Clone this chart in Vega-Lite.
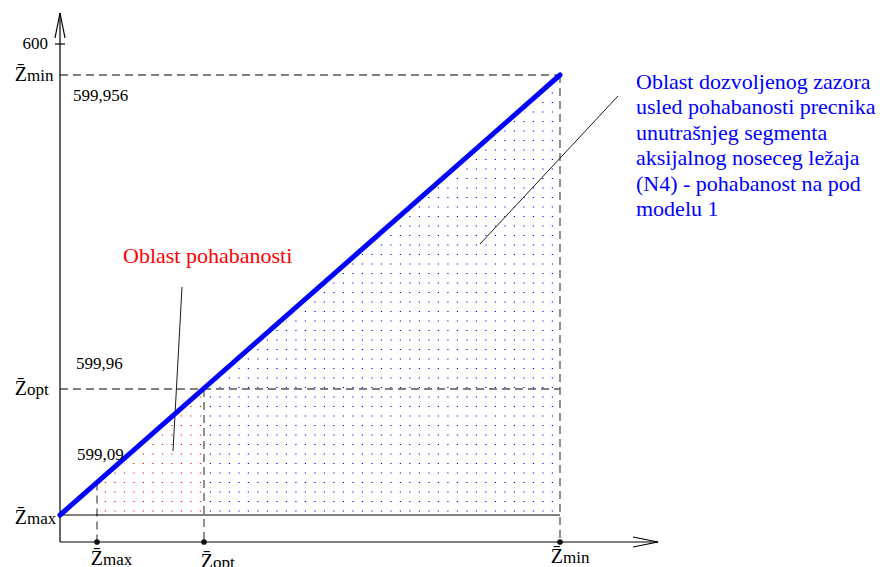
{
  "$schema": "https://vega.github.io/schema/vega-lite/v6.json",
  "autosize": {"type": "none"},
  "width": 880,
  "height": 567,
  "padding": 0,
  "background": "white",
  "view": {"stroke": null},
  "datasets": {
    "dots": [
      {"region": "blue", "y": 0.8, "xs": 98.6, "xe": 29.4},
      {"region": "blue", "y": 2.7, "xs": 98.6, "xe": 29.4},
      {"region": "blue", "y": 4.6, "xs": 98.6, "xe": 29.4},
      {"region": "blue", "y": 6.5, "xs": 98.6, "xe": 29.4},
      {"region": "blue", "y": 8.4, "xs": 98.6, "xe": 29.4},
      {"region": "blue", "y": 10.3, "xs": 98.6, "xe": 29.4},
      {"region": "blue", "y": 12.2, "xs": 98.6, "xe": 29.4},
      {"region": "blue", "y": 14.1, "xs": 98.6, "xe": 29.4},
      {"region": "blue", "y": 16.0, "xs": 98.6, "xe": 29.4},
      {"region": "blue", "y": 17.9, "xs": 98.6, "xe": 29.4},
      {"region": "blue", "y": 19.8, "xs": 98.6, "xe": 29.4},
      {"region": "blue", "y": 21.7, "xs": 98.6, "xe": 29.4},
      {"region": "blue", "y": 23.6, "xs": 98.6, "xe": 29.4},
      {"region": "blue", "y": 25.5, "xs": 98.6, "xe": 30.2},
      {"region": "blue", "y": 27.4, "xs": 98.6, "xe": 32.3},
      {"region": "blue", "y": 29.3, "xs": 98.6, "xe": 34.5},
      {"region": "blue", "y": 31.2, "xs": 98.6, "xe": 36.7},
      {"region": "blue", "y": 33.1, "xs": 98.6, "xe": 38.8},
      {"region": "blue", "y": 35.0, "xs": 98.6, "xe": 41.0},
      {"region": "blue", "y": 36.9, "xs": 98.6, "xe": 43.1},
      {"region": "blue", "y": 38.8, "xs": 98.6, "xe": 45.3},
      {"region": "blue", "y": 40.7, "xs": 98.6, "xe": 47.5},
      {"region": "blue", "y": 42.6, "xs": 98.6, "xe": 49.6},
      {"region": "blue", "y": 44.5, "xs": 98.6, "xe": 51.8},
      {"region": "blue", "y": 46.4, "xs": 98.6, "xe": 53.9},
      {"region": "blue", "y": 48.3, "xs": 98.6, "xe": 56.1},
      {"region": "blue", "y": 50.2, "xs": 98.6, "xe": 58.3},
      {"region": "blue", "y": 52.1, "xs": 98.6, "xe": 60.4},
      {"region": "blue", "y": 54.0, "xs": 98.6, "xe": 62.6},
      {"region": "blue", "y": 55.9, "xs": 98.6, "xe": 64.7},
      {"region": "blue", "y": 57.8, "xs": 98.6, "xe": 66.9},
      {"region": "blue", "y": 59.7, "xs": 98.6, "xe": 69.0},
      {"region": "blue", "y": 61.6, "xs": 98.6, "xe": 71.2},
      {"region": "blue", "y": 63.5, "xs": 98.6, "xe": 73.4},
      {"region": "blue", "y": 65.4, "xs": 98.6, "xe": 75.5},
      {"region": "blue", "y": 67.3, "xs": 98.6, "xe": 77.7},
      {"region": "blue", "y": 69.2, "xs": 98.6, "xe": 79.8},
      {"region": "blue", "y": 71.1, "xs": 98.6, "xe": 82.0},
      {"region": "blue", "y": 73.0, "xs": 98.6, "xe": 84.2},
      {"region": "blue", "y": 74.9, "xs": 98.6, "xe": 86.3},
      {"region": "blue", "y": 76.8, "xs": 98.6, "xe": 88.5},
      {"region": "blue", "y": 78.7, "xs": 98.6, "xe": 90.6},
      {"region": "blue", "y": 80.6, "xs": 98.6, "xe": 92.8},
      {"region": "blue", "y": 82.5, "xs": 98.6, "xe": 95.0},
      {"region": "blue", "y": 84.4, "xs": 98.6, "xe": 97.1},
      {"region": "red", "y": 0.8, "xs": 28.2, "xe": 7.8},
      {"region": "red", "y": 2.7, "xs": 28.2, "xe": 7.8},
      {"region": "red", "y": 4.6, "xs": 28.2, "xe": 7.8},
      {"region": "red", "y": 6.5, "xs": 28.2, "xe": 8.6},
      {"region": "red", "y": 8.4, "xs": 28.2, "xe": 10.7},
      {"region": "red", "y": 10.3, "xs": 28.2, "xe": 12.9},
      {"region": "red", "y": 12.2, "xs": 28.2, "xe": 15.1},
      {"region": "red", "y": 14.1, "xs": 28.2, "xe": 17.2},
      {"region": "red", "y": 16.0, "xs": 28.2, "xe": 19.4},
      {"region": "red", "y": 17.9, "xs": 28.2, "xe": 21.5},
      {"region": "red", "y": 19.8, "xs": 28.2, "xe": 23.7},
      {"region": "red", "y": 21.7, "xs": 28.2, "xe": 25.9},
      {"region": "red", "y": 23.6, "xs": 28.2, "xe": 27.9}
    ],
    "dashed": [
      {"x": 0, "y": 88, "x2": 100, "y2": 88},
      {"x": 0, "y": 25.2, "x2": 100, "y2": 25.2},
      {"x": 100, "y": 88, "x2": 100, "y2": -5.4},
      {"x": 28.8, "y": 25.2, "x2": 28.8, "y2": -5.4},
      {"x": 7.4, "y": 6.5, "x2": 7.4, "y2": -5.4}
    ],
    "solid": [
      {"x": 0, "y": 0, "x2": 100, "y2": 0},
      {"x": 0, "y": -5.4, "x2": 0, "y2": 100.4},
      {"x": 0, "y": -5.4, "x2": 119.6, "y2": -5.4},
      {"x": 0, "y": 100.4, "x2": -1, "y2": 95.4},
      {"x": 0, "y": 100.4, "x2": 1, "y2": 95.4},
      {"x": 119.6, "y": -5.4, "x2": 114.6, "y2": -4.4},
      {"x": 119.6, "y": -5.4, "x2": 114.6, "y2": -6.4},
      {"x": -1, "y": 94.2, "x2": 1, "y2": 94.2}
    ],
    "leaders": [
      {"x": 24.4, "y": 45.6, "x2": 22.6, "y2": 12.8},
      {"x": 84, "y": 54.2, "x2": 111.6, "y2": 83.8}
    ],
    "curve": [
      {"x": 0, "y": 0},
      {"x": 100, "y": 88}
    ],
    "marks": [
      {"x": 7.4, "y": -5.4},
      {"x": 28.8, "y": -5.4},
      {"x": 100, "y": -5.4}
    ],
    "zlabels": [
      {"sub": "min", "x": -6.6, "y": 86.8},
      {"sub": "opt", "x": -6.6, "y": 24},
      {"sub": "max", "x": -6.6, "y": -1.8},
      {"sub": "max", "x": 8.6, "y": -10.0},
      {"sub": "opt", "x": 30.6, "y": -10.6},
      {"sub": "min", "x": 100.6, "y": -9.6}
    ],
    "numbers": [
      {"label": "599,956", "x": 2.6, "y": 83.8},
      {"label": "599,96", "x": 3.2, "y": 30.2},
      {"label": "599,09", "x": 3.4, "y": 12}
    ],
    "bluetext": [
      {"line": "Oblast dozvoljenog zazora", "x": 115.2, "y": 85.2},
      {"line": "usled pohabanosti precnika", "x": 115.2, "y": 80.2},
      {"line": "unutrašnjeg segmenta", "x": 115.2, "y": 75.1},
      {"line": "aksijalnog noseceg ležaja", "x": 115.2, "y": 70.0},
      {"line": "(N4) - pohabanost na pod", "x": 115.2, "y": 64.9},
      {"line": "modelu 1", "x": 115.2, "y": 59.9}
    ],
    "redtext": [
      {"line": "Oblast pohabanosti", "x": 12.6, "y": 50.5}
    ],
    "ticklabel": [
      {"label": "600", "x": -2.4, "y": 94.2}
    ]
  },
  "encoding": {
    "x": {"type": "quantitative", "scale": {"domain": [-12, 164], "nice": false, "zero": false}, "axis": null},
    "y": {"type": "quantitative", "scale": {"domain": [-10.4, 103], "nice": false, "zero": false}, "axis": null}
  },
  "layer": [
    {
      "data": {"name": "dots"},
      "mark": {"type": "rule", "strokeWidth": 1.2, "strokeDash": [1.2, 8.3], "strokeCap": "butt"},
      "encoding": {
        "x": {"field": "xs", "type": "quantitative"},
        "x2": {"field": "xe"},
        "y": {"field": "y", "type": "quantitative"},
        "color": {"field": "region", "type": "nominal", "scale": {"domain": ["blue", "red"], "range": ["#0000ff", "#ff0000"]}, "legend": null}
      }
    },
    {
      "data": {"name": "dashed"},
      "mark": {"type": "rule", "color": "#555555", "strokeWidth": 1.3, "strokeDash": [8, 5]},
      "encoding": {
        "x": {"field": "x", "type": "quantitative"},
        "y": {"field": "y", "type": "quantitative"},
        "x2": {"field": "x2"},
        "y2": {"field": "y2"}
      }
    },
    {
      "data": {"name": "solid"},
      "mark": {"type": "rule", "color": "#000000", "strokeWidth": 1.2},
      "encoding": {
        "x": {"field": "x", "type": "quantitative"},
        "y": {"field": "y", "type": "quantitative"},
        "x2": {"field": "x2"},
        "y2": {"field": "y2"}
      }
    },
    {
      "data": {"name": "leaders"},
      "mark": {"type": "rule", "color": "#000000", "strokeWidth": 0.9},
      "encoding": {
        "x": {"field": "x", "type": "quantitative"},
        "y": {"field": "y", "type": "quantitative"},
        "x2": {"field": "x2"},
        "y2": {"field": "y2"}
      }
    },
    {
      "data": {"name": "curve"},
      "mark": {"type": "line", "color": "#0000ff", "strokeWidth": 5, "strokeCap": "round"},
      "encoding": {
        "x": {"field": "x", "type": "quantitative"},
        "y": {"field": "y", "type": "quantitative"}
      }
    },
    {
      "data": {"name": "marks"},
      "mark": {"type": "point", "filled": true, "color": "#111111", "size": 32, "opacity": 1},
      "encoding": {
        "x": {"field": "x", "type": "quantitative"},
        "y": {"field": "y", "type": "quantitative"}
      }
    },
    {
      "data": {"name": "zlabels"},
      "mark": {"type": "text", "text": "Z̄", "font": "Times New Roman, Liberation Serif, DejaVu Serif, serif", "align": "right", "baseline": "alphabetic", "fontSize": 20, "color": "#000000"},
      "encoding": {
        "x": {"field": "x", "type": "quantitative"},
        "y": {"field": "y", "type": "quantitative"}
      }
    },
    {
      "data": {"name": "zlabels"},
      "mark": {"type": "text", "font": "Times New Roman, Liberation Serif, DejaVu Serif, serif", "align": "left", "baseline": "alphabetic", "fontSize": 17, "color": "#000000"},
      "encoding": {
        "x": {"field": "x", "type": "quantitative"},
        "y": {"field": "y", "type": "quantitative"},
        "text": {"field": "sub"}
      }
    },
    {
      "data": {"name": "numbers"},
      "mark": {"type": "text", "font": "Times New Roman, Liberation Serif, DejaVu Serif, serif", "align": "left", "baseline": "middle", "fontSize": 17, "color": "#000000"},
      "encoding": {
        "x": {"field": "x", "type": "quantitative"},
        "y": {"field": "y", "type": "quantitative"},
        "text": {"field": "label"}
      }
    },
    {
      "data": {"name": "ticklabel"},
      "mark": {"type": "text", "font": "Times New Roman, Liberation Serif, DejaVu Serif, serif", "align": "right", "baseline": "middle", "fontSize": 17, "color": "#000000"},
      "encoding": {
        "x": {"field": "x", "type": "quantitative"},
        "y": {"field": "y", "type": "quantitative"},
        "text": {"field": "label"}
      }
    },
    {
      "data": {"name": "bluetext"},
      "mark": {"type": "text", "font": "Times New Roman, Liberation Serif, DejaVu Serif, serif", "align": "left", "baseline": "alphabetic", "fontSize": 22, "color": "#0000ff"},
      "encoding": {
        "x": {"field": "x", "type": "quantitative"},
        "y": {"field": "y", "type": "quantitative"},
        "text": {"field": "line"}
      }
    },
    {
      "data": {"name": "redtext"},
      "mark": {"type": "text", "font": "Times New Roman, Liberation Serif, DejaVu Serif, serif", "align": "left", "baseline": "alphabetic", "fontSize": 22, "color": "#ff0000"},
      "encoding": {
        "x": {"field": "x", "type": "quantitative"},
        "y": {"field": "y", "type": "quantitative"},
        "text": {"field": "line"}
      }
    }
  ]
}
